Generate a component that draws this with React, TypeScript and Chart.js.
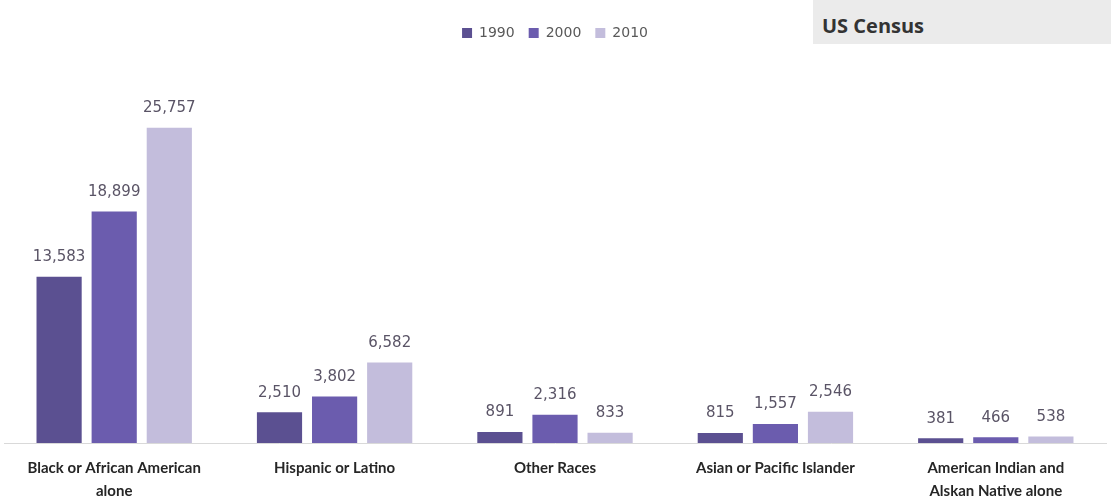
import React, { useEffect, useRef } from "react";
import { Chart, registerables } from "chart.js";

Chart.register(...registerables);

const categories: (string | string[])[] = [
  ["Black or African American", "alone"],
  "Hispanic or Latino",
  "Other Races",
  "Asian or Pacific Islander",
  ["American Indian and", "Alskan Native alone"],
];
const seriesNames = ["1990", "2000", "2010"];
const values1990 = [13583, 2510, 891, 815, 381];
const values2000 = [18899, 3802, 2316, 1557, 466];
const values2010 = [25757, 6582, 833, 2546, 538];
const colors = ["#5b5091", "#6b5cae", "#c3bddc"];

const valueLabels = {
  id: "valueLabels",
  afterDatasetsDraw(chart: any) {
    const ctx = chart.ctx;
    ctx.save();
    ctx.font = "15px 'DejaVu Sans'";
    ctx.fillStyle = "#5a5466";
    ctx.textAlign = "center";
    ctx.textBaseline = "bottom";
    chart.data.datasets.forEach((ds: any, i: number) => {
      const meta = chart.getDatasetMeta(i);
      meta.data.forEach((bar: any, j: number) => {
        const v = ds.data[j] as number;
        ctx.fillText(v.toLocaleString("en-US"), bar.x, bar.y - 12);
      });
    });
    ctx.restore();
  },
};

export default function App() {
  const ref = useRef<HTMLCanvasElement>(null);
  useEffect(() => {
    document.body.style.margin = "0";
    const chart = new Chart(ref.current!, {
      type: "bar",
      data: {
        labels: categories,
        datasets: [values1990, values2000, values2010].map((d, i) => ({
          label: seriesNames[i],
          data: d,
          backgroundColor: colors[i],
          barPercentage: 0.82,
          categoryPercentage: 0.75,
        })),
      },
      options: {
        animation: false,
        responsive: false,
        layout: { padding: { left: 4, right: 5, top: 12, bottom: -6 } },
        plugins: {
          legend: {
            display: true,
            position: "top",
            labels: {
              boxWidth: 10,
              boxHeight: 10,
              padding: 14,
              color: "#595959",
              font: { family: "'DejaVu Sans'", size: 14 },
            },
          },
          tooltip: { enabled: false },
        },
        scales: {
          x: {
            grid: { display: false },
            border: { display: true, color: "#d9d9d9", width: 1 },
            ticks: {
              color: "#262626",
              padding: 6,
              maxRotation: 0,
              autoSkip: false,
              font: { family: "Lato", size: 15, weight: "bold", lineHeight: 1.5 },
            },
          },
          y: {
            display: false,
            min: 0,
            max: 32100,
          },
        },
      },
      plugins: [valueLabels],
    });
    return () => chart.destroy();
  }, []);
  return (
    <div style={{ position: "absolute", left: 0, top: 0, width: 1111, height: 502, background: "#fff" }}>
      <canvas ref={ref} width={1111} height={502} style={{ position: "absolute", left: 0, top: 0 }} />
      <div
        style={{
          position: "absolute",
          left: 813,
          top: 0,
          width: 298,
          height: 44,
          background: "#ebebeb",
          fontFamily: "'Open Sans', sans-serif",
          fontWeight: "bold",
          fontSize: 20,
          color: "#333",
          lineHeight: "52px",
          paddingLeft: 9,
          boxSizing: "border-box",
        }}
      >
        US Census
      </div>
    </div>
  );
}
